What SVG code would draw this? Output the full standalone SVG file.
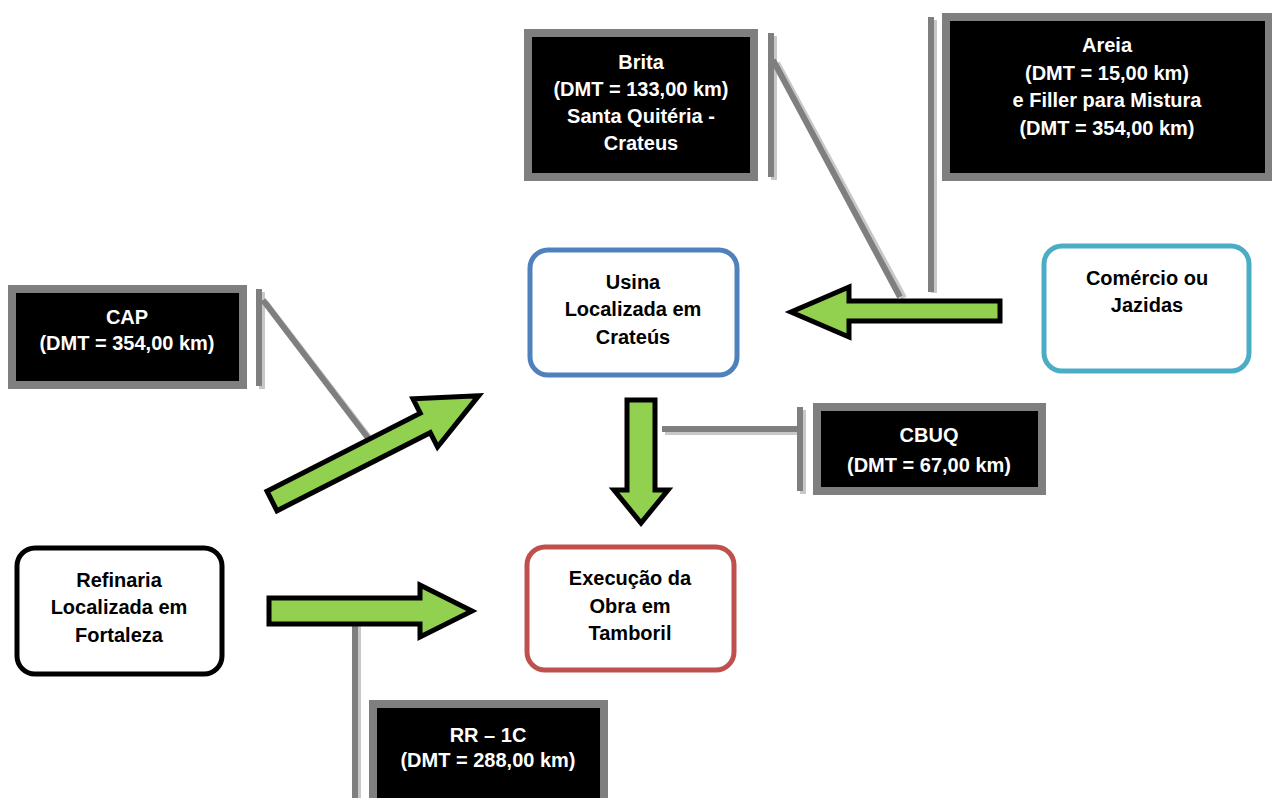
<svg xmlns="http://www.w3.org/2000/svg" width="1272" height="798" viewBox="0 0 1272 798">
<defs>
<style>
.node{fill:#fff;stroke-width:5}
.nt{font-family:"Liberation Sans",Arial,sans-serif;font-weight:bold;font-size:20px;fill:#000;text-anchor:middle}
.ct{font-family:"Liberation Sans",Arial,sans-serif;font-weight:bold;font-size:20px;fill:#fff;text-anchor:middle}
.cbox{fill:#000;stroke:#7f7f7f;stroke-width:8}
.cshadow{fill:#bfbfbf}
.lead{stroke:#7f7f7f;stroke-width:6;fill:none}
.leadsh{stroke:#c8c8c8;stroke-width:6;fill:none}
.arrow{fill:#92d050;stroke:#000;stroke-width:5;stroke-linejoin:miter}
</style>
</defs>
<rect width="1272" height="798" fill="#fff"/>

<g id="callout-brita">
<line class="leadsh" x1="774" y1="36" x2="774" y2="180"/>
<line class="leadsh" x1="777" y1="63" x2="904" y2="298"/>
<line class="lead" x1="771" y1="33" x2="771" y2="177"/>
<line class="lead" x1="773" y1="60" x2="900" y2="297"/>
<rect class="cshadow" x="528" y="33" width="230" height="148"/>
<rect class="cbox" x="528" y="33" width="226" height="144"/>
<text class="ct" x="641" y="69">Brita</text>
<text class="ct" x="641" y="96">(DMT = 133,00 km)</text>
<text class="ct" x="641" y="123">Santa Quitéria -</text>
<text class="ct" x="641" y="150">Crateus</text>
</g>

<g id="callout-areia">
<line class="leadsh" x1="934" y1="20" x2="934" y2="293"/>
<line class="lead" x1="931" y1="17" x2="931" y2="292"/>
<rect class="cshadow" x="946" y="17" width="330" height="164"/>
<rect class="cbox" x="946" y="17" width="323" height="160"/>
<text class="ct" x="1107" y="52">Areia</text>
<text class="ct" x="1107" y="80">(DMT = 15,00 km)</text>
<text class="ct" x="1107" y="107">e Filler para Mistura</text>
<text class="ct" x="1107" y="135">(DMT = 354,00 km)</text>
</g>

<g id="callout-cap">
<line class="leadsh" x1="262" y1="292" x2="262" y2="389"/>
<line class="leadsh" x1="266" y1="303" x2="371" y2="440"/>
<line class="lead" x1="259" y1="289" x2="259" y2="386"/>
<line class="lead" x1="263" y1="300" x2="368" y2="438"/>
<rect class="cshadow" x="12" y="289" width="235" height="100"/>
<rect class="cbox" x="12" y="289" width="231" height="96"/>
<text class="ct" x="127" y="324">CAP</text>
<text class="ct" x="127" y="350">(DMT = 354,00 km)</text>
</g>

<g id="callout-cbuq">
<line class="leadsh" x1="803" y1="410" x2="803" y2="494"/>
<line class="leadsh" x1="665" y1="432" x2="800" y2="432"/>
<line class="lead" x1="800" y1="407" x2="800" y2="491"/>
<line class="lead" x1="662" y1="429" x2="800" y2="429"/>
<rect class="cshadow" x="817" y="407" width="229" height="88"/>
<rect class="cbox" x="817" y="407" width="225" height="84"/>
<text class="ct" x="929" y="442">CBUQ</text>
<text class="ct" x="929" y="472">(DMT = 67,00 km)</text>
</g>

<g id="callout-rr">
<line class="leadsh" x1="358" y1="618" x2="358" y2="798"/>
<line class="lead" x1="355" y1="615" x2="355" y2="798"/>
<rect class="cshadow" x="373" y="704" width="235" height="114"/>
<rect class="cbox" x="373" y="704" width="231" height="110"/>
<text class="ct" x="488" y="742">RR – 1C</text>
<text class="ct" x="488" y="767">(DMT = 288,00 km)</text>
</g>

<g id="node-usina">
<rect class="node" x="530" y="250" width="207" height="125" rx="18" stroke="#4f81bd"/>
<text class="nt" x="633" y="289">Usina</text>
<text class="nt" x="633" y="316">Localizada em</text>
<text class="nt" x="633" y="344">Crateús</text>
</g>

<g id="node-comercio">
<rect class="node" x="1044" y="246" width="205" height="125" rx="18" stroke="#4bacc6"/>
<text class="nt" x="1147" y="285">Comércio ou</text>
<text class="nt" x="1147" y="312">Jazidas</text>
</g>

<g id="node-refinaria">
<rect class="node" x="17" y="548" width="205" height="126" rx="18" stroke="#000"/>
<text class="nt" x="119" y="587">Refinaria</text>
<text class="nt" x="119" y="614">Localizada em</text>
<text class="nt" x="119" y="642">Fortaleza</text>
</g>

<g id="node-execucao">
<rect class="node" x="527" y="547" width="207" height="123" rx="18" stroke="#c0504d"/>
<text class="nt" x="630" y="585">Execução da</text>
<text class="nt" x="630" y="613">Obra em</text>
<text class="nt" x="630" y="640">Tamboril</text>
</g>

<g id="connectors">
<polygon class="arrow" points="1000,301 849,301 849,287 791,312 849,337 849,321 1000,321"/>
<polygon class="arrow" points="627,400 655,400 655,490 668,490 641,523 614,490 627,490"/>
<polygon class="arrow" points="269,598 420,598 420,585 472,611 420,637 420,624 269,624"/>
<polygon class="arrow" transform="translate(272,501) rotate(-27)" points="0,-11 172,-11 172,-27 232,0 172,27 172,11 0,11"/>
</g>
</svg>
